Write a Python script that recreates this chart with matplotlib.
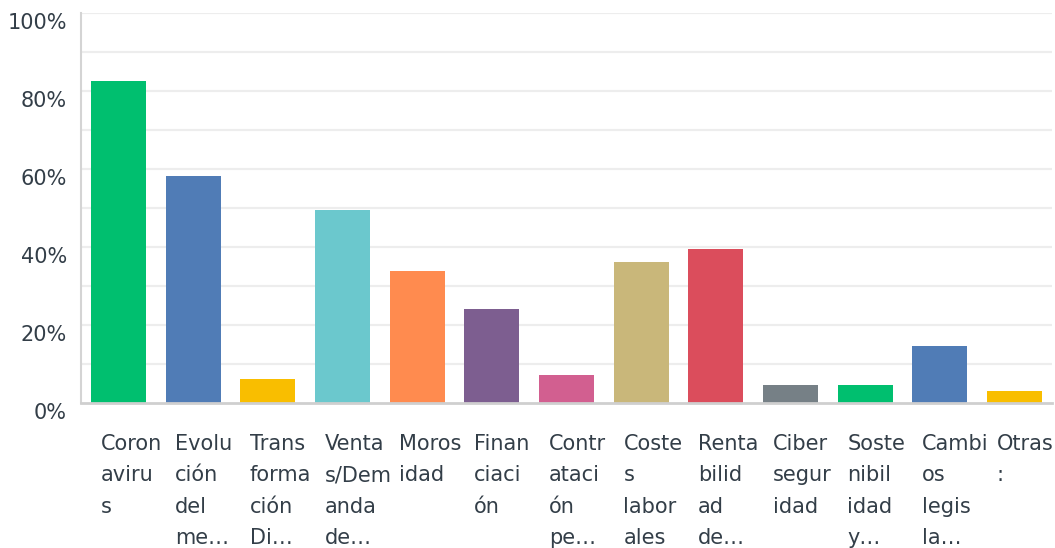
import matplotlib.pyplot as plt
import matplotlib.transforms as mtransforms
import numpy as np

# data
labels = ["Coron\naviru\ns", "Evolu\nción\ndel\nme…", "Trans\nforma\nción\nDi…",
          "Venta\ns/Dem\nanda\nde…", "Moros\nidad", "Finan\nciaci\nón",
          "Contr\nataci\nón\npe…", "Coste\ns\nlabor\nales", "Renta\nbilid\nad\nde…",
          "Ciber\nsegur\nidad", "Soste\nnibil\nidad\ny…", "Cambi\nos\nlegis\nla…",
          "Otras\n:"]
values = [82.6, 58.2, 6.2, 49.5, 33.8, 24.1, 7.2, 36.2, 39.5, 4.6, 4.6, 14.6, 3.1]
colors = ["#00BF6F", "#507CB6", "#F9BE00", "#6BC8CD", "#FF8B4F", "#7D5E90",
          "#D25F90", "#C9B77A", "#DB4D5C", "#768086", "#00BF6F", "#507CB6", "#F9BE00"]
yticks = [0, 20, 40, 60, 80, 100]

text_color = "#333e48"
plt.rcParams['font.family'] = ['DejaVu Sans']

fig = plt.figure(figsize=(10.55, 5.48), dpi=100)
ax = fig.add_axes([81 / 1055, 1 - 403 / 548, (1052 - 81) / 1055, (403 - 13) / 548])

x = np.arange(len(values))
w = 0.737
ax.bar(x, values, width=w, color=colors, zorder=3)

ax.set_xlim(-0.5, len(values) - 0.5)
ax.set_ylim(0, 100)

# gridlines every 10%
for g in range(10, 101, 10):
    ax.axhline(g, color="#ededed", lw=1.6, zorder=1)

ax.set_yticks(yticks)
ax.set_yticklabels([f"{t}%" for t in yticks], fontsize=15, color=text_color)
ax.tick_params(axis='y', length=0, pad=10)
offset = mtransforms.ScaledTranslation(0, -8 / 100, fig.dpi_scale_trans)
for lab in ax.get_yticklabels():
    lab.set_transform(lab.get_transform() + offset)

ax.set_xticks([])
for i, lab in enumerate(labels):
    ax.annotate(lab, xy=(i - w / 2, 0), xycoords=('data', 'axes fraction'),
                xytext=(7, -22), textcoords='offset points',
                ha='left', va='top', fontsize=15, color=text_color, linespacing=1.72)

for s in ['top', 'right']:
    ax.spines[s].set_visible(False)
ax.spines['left'].set_color("#d4d4d4")
ax.spines['left'].set_linewidth(1.5)
ax.spines['bottom'].set_color("#cfcfcf")
ax.spines['bottom'].set_linewidth(2)
ax.spines['bottom'].set_zorder(4)

fig.savefig("out.png", dpi=100)
